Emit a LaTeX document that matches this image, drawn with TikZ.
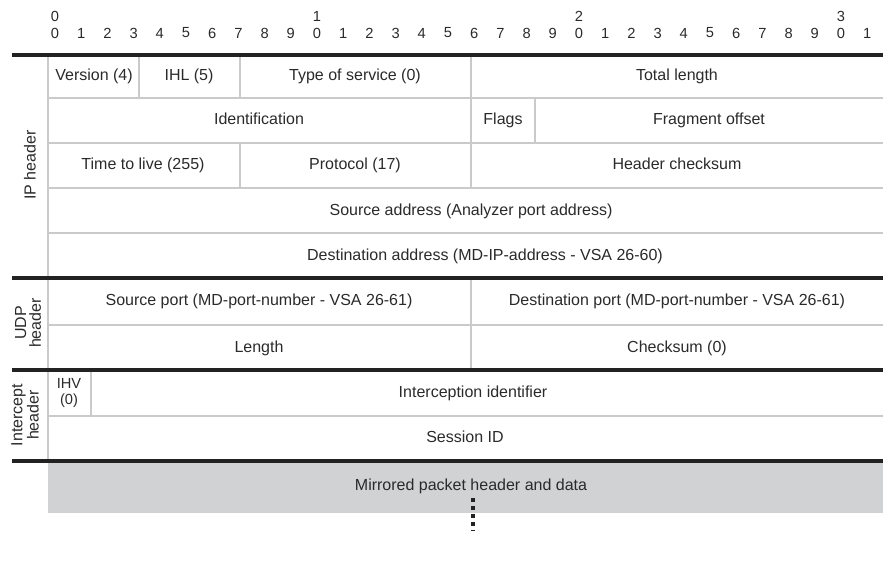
\documentclass[tikz,border=0pt]{standalone}
\usepackage{fontspec}
\setmainfont{Liberation Sans}
\usetikzlibrary{positioning}
\definecolor{rulegray}{HTML}{CACACA}
\definecolor{boldrule}{HTML}{222222}
\definecolor{datagray}{HTML}{D1D2D4}
\definecolor{inkgray}{HTML}{2A2A2A}

\begin{document}
\begin{tikzpicture}[x=0.75pt, y=-0.75pt,
    field/.style={font=\fontsize{12}{14}\selectfont, text=inkgray, inner sep=0pt, text height=8.6pt, text depth=2.4pt},
    bitnum/.style={font=\fontsize{11}{12}\selectfont, text=inkgray, inner sep=0pt},
    sidelabel/.style={rotate=90, align=center, font=\fontsize{12}{11}\selectfont, text=inkgray, inner sep=0pt},
    thinrule/.style={draw=rulegray, line width=0.9pt},
    thickrule/.style={draw=boldrule, line width=3pt},
    contdots/.style={draw=boldrule, line width=3.2pt, dash pattern=on 3pt off 3pt}]
    \useasboundingbox (0,0) rectangle (883,570);
    % bit ruler
    \foreach \b in {0,...,31} {
        \pgfmathtruncatemacro{\u}{mod(\b,10)}
        \node[bitnum] (bit\b) at ({55+\b*26.2},33) {\u};
    }
    \foreach \b/\t in {0/0, 10/1, 20/2, 30/3}
        \node[bitnum, above=4.5pt of bit\b] (tens\b) {\t};
    % mirrored data
    \fill[datagray] (48,463) rectangle (883,513);
    \node[field] (mirror) at (471,486) {Mirrored packet header and data};
    \coordinate (cont_top) at (473,498);
    \coordinate (cont_bot) at (473,531);
    \draw[contdots] (cont_top) -- (cont_bot);
    % thin rules
    \foreach \y in {98,143,188,233,325,416}
        \draw[thinrule] (48,\y) -- (883,\y);
    \draw[thinrule] (48,55) -- (48,461);
    \draw[thinrule] (139,55) -- (139,98);
    \draw[thinrule] (240,55) -- (240,98);
    \draw[thinrule] (240,143) -- (240,188);
    \draw[thinrule] (471,55) -- (471,188);
    \draw[thinrule] (535,98) -- (535,143);
    \draw[thinrule] (471,278) -- (471,370);
    \draw[thinrule] (91,370) -- (91,416);
    % thick rules
    \foreach \y in {55,278,370,461}
        \draw[thickrule] (12,\y) -- (883,\y);
    % IP header
    \node[field] (version) at (94,76) {Version (4)};
    \node[field] (ihl) at (189,76) {IHL (5)};
    \node[field] (tos) at (355,76) {Type of service (0)};
    \node[field] (totlen) at (677,76) {Total length};
    \node[field] (ident) at (259,120) {Identification};
    \node[field] (flags) at (503,120) {Flags};
    \node[field] (fragoff) at (709,120) {Fragment offset};
    \node[field] (ttl) at (143,165) {Time to live (255)};
    \node[field] (proto) at (355,165) {Protocol (17)};
    \node[field] (hdrsum) at (677,165) {Header checksum};
    \node[field] (srcaddr) at (471,211) {Source address (Analyzer port address)};
    \node[field] (dstaddr) at (485,256) {Destination address (MD-IP-address - VSA 26-60)};
    % UDP header
    \node[field] (srcport) at (259,301) {Source port (MD-port-number - VSA 26-61)};
    \node[field] (dstport) at (677,301) {Destination port (MD-port-number - VSA 26-61)};
    \node[field] (udplen) at (259,348) {Length};
    \node[field] (udpsum) at (677,348) {Checksum (0)};
    % intercept header
    \node[align=center, font=\fontsize{11}{12}\selectfont, text=inkgray, inner sep=0pt] (ihv) at (69,393) {IHV\\(0)};
    \node[field] (interid) at (473,393) {Interception identifier};
    \node[field] (session) at (465,438) {Session ID};
    % side labels
    \node[sidelabel] (iplbl) at (30,165) {IP header};
    \node[sidelabel] (udplbl) at (28,323) {UDP\\header};
    \node[sidelabel] (intlbl) at (25,415) {Intercept\\header};
\end{tikzpicture}
\end{document}
